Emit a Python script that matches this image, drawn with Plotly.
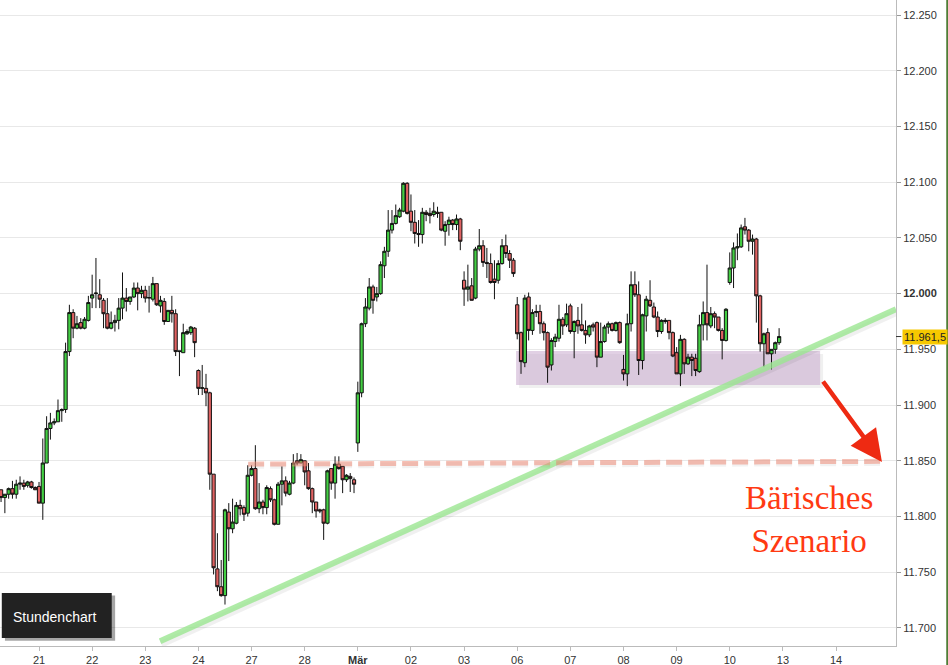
import plotly.graph_objects as go

# ---------------- data (DAX hourly candles, points) ----------------
opens = [11824,11817,11820,11825,11820,11829,11830,11828,11831,11826,
         11827,11812,11848,11879,11884,11885,11895,11896,11948,11983,
         11969,11974,11969,11976,11996,12000,11999,11994,11982,11969,
         11974,11976,11987,11996,11993,11997,12005,12000,12003,11996,
         11995,12009,11989,11993,11975,11985,11982,11948,11947,11964,
         11965,11969,11931,11915,11915,11911,11838,11753,11737,11729,
         11804,11789,11794,11810,11808,11803,11837,11843,11807,11813,
         11808,11825,11815,11793,11829,11832,11820,11830,11850,11848,
         11850,11841,11825,11813,11806,11806,11794,11843,11830,11847,
         11845,11833,11836,11833,11866,11911,11973,11987,12006,11997,
         12000,12025,12038,12057,12063,12069,12074,12099,12074,12064,
         12054,12053,12073,12072,12071,12073,12073,12056,12062,12066,
         12062,12067,12012,12004,12007,11996,12040,12043,12028,12027,
         12013,12012,12027,12043,12036,12030,11990,11965,11938,11997,
         11967,11983,11984,11973,11965,11936,11957,11960,11977,11972,
         11989,11966,11976,11972,11967,11963,11972,11974,11943,11957,
         11970,11973,11967,11974,11932,11928,11973,12008,11999,11940,
         11980,11994,11988,11979,11966,11975,11976,11965,11947,11928,
         11959,11937,11943,11942,11930,11972,11983,11971,11982,11979,
         11967,11958,12010,12023,12041,12042,12060,12057,12047,12049,
         11998,11955,11965,11946,11950,11956]
highs = [11824,11820,11826,11832,11833,11836,11833,11832,11832,11827,
         11831,11870,11890,11893,11888,11905,11897,11956,11990,11986,
         11980,11978,11979,11998,12017,12032,12013,11996,11996,11984,
         11981,11996,12019,12005,11997,12010,12010,12007,12007,12007,
         12015,12009,11998,11996,11985,11998,11986,11948.5,11973,11968,
         11971,11970,11932,11936,11928,11912,11838,11785,11761,11807,
         11812,11816,11813,11815,11810,11846,11846,11864,11830,11815,
         11828,11827,11816,11831,11845,11836,11832,11856,11857,11856,
         11850,11848,11826,11813,11807,11807,11842,11843,11854,11854,
         11845,11838,11839,11835,11921,11974,11996,12014,12008,12006,
         12029,12042,12075,12075,12080,12077,12100,12100,12089,12075,
         12066,12077,12075,12077,12082,12078,12073,12065,12069,12067,
         12071,12068,12020,12026,12014,12042,12058,12048,12041,12036,
         12030,12030,12049,12053,12039,12032,11997,11966,11999,12001,
         11986,11990,11990,11975,11966,11960,11964,11990,11979,11991,
         11991,11976,11988,11991,11976,11972,11974,11975,11974,11972,
         11975,11974,11975,11975,11945,11982,12020,12020,12011,11982,
         11998,12012,11992,11984,11977,11978,11976,11966,11952,11963,
         11960,11946,11946,11946,11981,11993,12026,11988,11984,11979,
         11969,11987,12037,12046,12054,12062,12068,12058,12053,12050,
         11999,11965,11969,11950,11957,11969]
lows = [11813,11803,11816,11816,11816,11824,11824,11826,11825,11824,
        11812,11797,11848,11869,11882,11885,11885,11893,11944,11960,
        11968,11968,11968,11975,11987,11987,11987,11969,11968,11968,
        11966,11968,11977,11984,11990,11996,11985,11996,11992,11983,
        11993,11989,11983,11972,11975,11974,11944,11926,11947,11963,
        11963,11943,11909,11909,11899,11824,11748,11733,11728,11721,
        11760,11785,11793,11801,11796,11800,11836,11806,11803,11802,
        11802,11813,11792,11793,11810,11818,11819,11829,11846,11848,
        11828,11824,11803,11799,11803,11779,11793,11824,11816,11842,
        11821,11831,11822,11821,11858,11907,11970,11985,11982,11993,
        11999,12014,12033,12054,12062,12068,12073,12071,12056,12045,
        12042,12045,12065,12063,12069,12068,12056,12043,12052,12057,
        12057,12039,11989,11993,11994,11995,12038,12024,12014,12009,
        11995,12009,12026,12032,12023,12015,11959,11928,11934,11958,
        11963,11979,11964,11958,11920,11931,11952,11957,11963,11970,
        11964,11942,11964,11966,11955,11961,11966,11934,11943,11956,
        11964,11966,11966,11955,11922,11917,11966,11997,11927,11932,
        11966,11988,11978,11961,11964,11973,11959,11943,11928,11917,
        11928,11936,11926,11926,11929,11958,11958,11969,11969,11966,
        11941,11957,12008,12005,12030,12041,12053,12038,12035,11974,
        11948,11934,11946,11932,11946,11954]
closes = [11817,11820,11825,11820,11829,11830,11827,11831,11826,11824,
          11812,11848,11879,11884,11885,11895,11896,11948,11983,11969,
          11973,11969,11977,11992,11999,12000.5,11995,11982,11969,11974,
          11976,11987,11996,11993,11997,12005,12000,12003,11996,11996.5,
          12009,11990,11994,11975,11985,11982,11948,11948.5,11965,11966,
          11970,11956,11915,11915.5,11911,11838,11754,11737,11729,11806,
          11789,11795,11810,11807,11802,11837,11843,11807,11813,11808,
          11826,11815,11793,11829,11832,11821,11830,11848,11848,11851,
          11840,11825,11813,11805,11805,11794,11841,11830,11847,11843,
          11833,11837,11834,11829,11911,11973,11988,12006,11994,12000,
          12026,12038,12057,12063,12070,12075,12099,12072,12064,12054,
          12053,12073,12071,12070,12074,12072,12057,12062,12066,12062,
          12067,12047,12004,12006,11994,12040,12043,12028,12027,12010,
          12010,12027,12043,12036,12030,12018,11964,11939,11996,11967,
          11983,11984,11973,11965,11934,11958,11961,11977,11971,11982,
          11966,11975,11971,11967,11963,11971,11970,11943,11957,11970,
          11973,11967,11974,11956,11928,11973,12008,11999,11940,11981,
          11995,11989,11979,11966,11976,11976,11965,11944,11928,11959,
          11937,11943,11940,11931,11972,11983,11972,11982,11979,11967,
          11958,11986,12023,12041,12042,12059,12057,12047,12049,11998,
          11955,11964,11946,11950,11956,11961.5]

day_labels = ["21", "22", "23", "24", "27", "28", "Mär", "02", "03",
              "06", "07", "08", "09", "10", "13", "14"]
bars_per_day = 14
first_day_bar = 10
y_ticks = list(range(11700, 12251, 50))
last_price = closes[-1]

# annotation geometry (data units)
trend_start = (41.9, 11688.0)
trend_end = (235.8, 11986.0)
zone_x = (135.7, 215.8)
zone_y = (11918.0, 11948.5)
target_line = ((65.1, 11847.0), (231.6, 11849.5))
arrow_from = (216.3, 11922.5)
arrow_to = (232.1, 11849.0)
text_pos = (212.8, 11797.0)

x_range = [-0.28, 235.8]
y_range = [11683.8, 12263.5]

# ---------------- figure ----------------
xs = list(range(len(opens)))

fig = go.Figure()
fig.add_trace(go.Candlestick(
    x=xs, open=opens, high=highs, low=lows, close=closes,
    increasing=dict(fillcolor="#43cf43", line=dict(color="#111111", width=1)),
    decreasing=dict(fillcolor="#e06262", line=dict(color="#111111", width=1)),
    whiskerwidth=0, hoverinfo="skip", showlegend=False,
))

tickvals_x = [first_day_bar + bars_per_day * i for i in range(len(day_labels))]
ticktext_x = [("<b>%s</b>" % d) if d == "Mär" else d for d in day_labels]

def de_fmt(v):
    s = f"{v:,}".replace(",", ".")
    return f"<b>{s}</b>" if v == 12000 else s

shapes = []
# trendline shadow + line
shapes.append(dict(type="line", xref="x", yref="y",
                   x0=trend_start[0] + 0.3, y0=trend_start[1] - 2.6,
                   x1=trend_end[0] + 0.3, y1=trend_end[1] - 2.6,
                   line=dict(color="rgba(0,0,0,0.06)", width=7), layer="above"))
shapes.append(dict(type="line", xref="x", yref="y",
                   x0=trend_start[0], y0=trend_start[1],
                   x1=trend_end[0], y1=trend_end[1],
                   line=dict(color="rgba(155,230,145,0.8)", width=6), layer="above"))
# support zone shadow + zone
shapes.append(dict(type="rect", xref="x", yref="y",
                   x0=zone_x[0] + 0.8, x1=zone_x[1] + 0.8,
                   y0=zone_y[0] - 2.7, y1=zone_y[1] - 2.7,
                   fillcolor="rgba(0,0,0,0.06)", line=dict(width=0), layer="below"))
shapes.append(dict(type="rect", xref="x", yref="y",
                   x0=zone_x[0], x1=zone_x[1], y0=zone_y[0], y1=zone_y[1],
                   fillcolor="rgba(200,170,205,0.55)", line=dict(width=0), layer="below"))
# dashed target line
shapes.append(dict(type="line", xref="x", yref="y",
                   x0=target_line[0][0], y0=target_line[0][1] - 1.5,
                   x1=target_line[1][0], y1=target_line[1][1] - 1.5,
                   line=dict(color="rgba(0,0,0,0.05)", width=6, dash="16px,6px"), layer="above"))
shapes.append(dict(type="line", xref="x", yref="y",
                   x0=target_line[0][0], y0=target_line[0][1],
                   x1=target_line[1][0], y1=target_line[1][1],
                   line=dict(color="rgba(238,140,120,0.55)", width=5, dash="16px,6px"), layer="above"))
# Stundenchart box (shadow + box)
shapes.append(dict(type="rect", xref="paper", yref="paper",
                   x0=0.0055, x1=0.1285, y0=0.008, y1=0.078,
                   fillcolor="rgba(0,0,0,0.35)", line=dict(width=0), layer="above"))
shapes.append(dict(type="rect", xref="paper", yref="paper",
                   x0=0.002, x1=0.1247, y0=0.0124, y1=0.082,
                   fillcolor="#222222", line=dict(width=0), layer="above"))
# price marker tick
shapes.append(dict(type="line", xref="paper", yref="y",
                   x0=1.0, x1=1.006, y0=last_price, y1=last_price,
                   line=dict(color="#333333", width=1), layer="above"))
# right green border
shapes.append(dict(type="line", xref="paper", yref="paper",
                   x0=1.0572, x1=1.0572, y0=-0.03, y1=1.0,
                   line=dict(color="#4e7d35", width=2), layer="above"))

annotations = [
    dict(x=arrow_to[0], y=arrow_to[1], ax=arrow_from[0], ay=arrow_from[1],
         xref="x", yref="y", axref="x", ayref="y", text="",
         showarrow=True, arrowhead=2, arrowsize=1.4, arrowwidth=4.5,
         arrowcolor="#ee2a12"),
    dict(x=text_pos[0], y=text_pos[1], xref="x", yref="y",
         text="Bärisches<br>Szenario", showarrow=False,
         font=dict(family="Liberation Serif, Times New Roman, serif", size=33,
                   color="#ff3a12"),
         xanchor="center", yanchor="middle"),
    dict(x=0.0603, y=0.0449, xref="paper", yref="paper", text="Stundenchart",
         showarrow=False,
         font=dict(family="Liberation Sans, Arial, sans-serif", size=14, color="#ffffff"),
         xanchor="center", yanchor="middle"),
    dict(x=1.0, y=last_price, xref="paper", yref="y", xshift=6,
         text=f"{last_price:,.1f}".replace(",", "X").replace(".", ",").replace("X", "."),
         showarrow=False, xanchor="left", yanchor="middle",
         bgcolor="#f6c800", borderpad=1,
         font=dict(family="Liberation Sans, Arial, sans-serif", size=11, color="#222222")),
]

fig.update_layout(
    width=948, height=665,
    margin=dict(l=0, r=52, t=0, b=19, pad=0),
    paper_bgcolor="white", plot_bgcolor="white",
    boxgap=0.15, boxgroupgap=0,
    showlegend=False,
    shapes=shapes, annotations=annotations,
    font=dict(family="Liberation Sans, Arial, sans-serif", size=11, color="#333333"),
    xaxis=dict(range=x_range, tickvals=tickvals_x, ticktext=ticktext_x,
               showgrid=False, zeroline=False, showline=True, linecolor="#bbbbbb",
               ticks="outside", ticklen=4, tickcolor="#bbbbbb",
               rangeslider=dict(visible=False), automargin=False,
               tickfont=dict(size=11, color="#333333")),
    yaxis=dict(range=y_range, side="right", tickvals=y_ticks,
               ticktext=[de_fmt(v) for v in y_ticks],
               showgrid=True, gridcolor="#e8e8e8", zeroline=False,
               showline=True, linecolor="#bbbbbb",
               ticks="outside", ticklen=4, tickcolor="#999999",
               automargin=False, tickfont=dict(size=11, color="#333333")),
)

fig.write_html("out.html", config={"displayModeBar": False},
               post_script="document.body.style.margin='0px';document.body.style.overflow='hidden';")
